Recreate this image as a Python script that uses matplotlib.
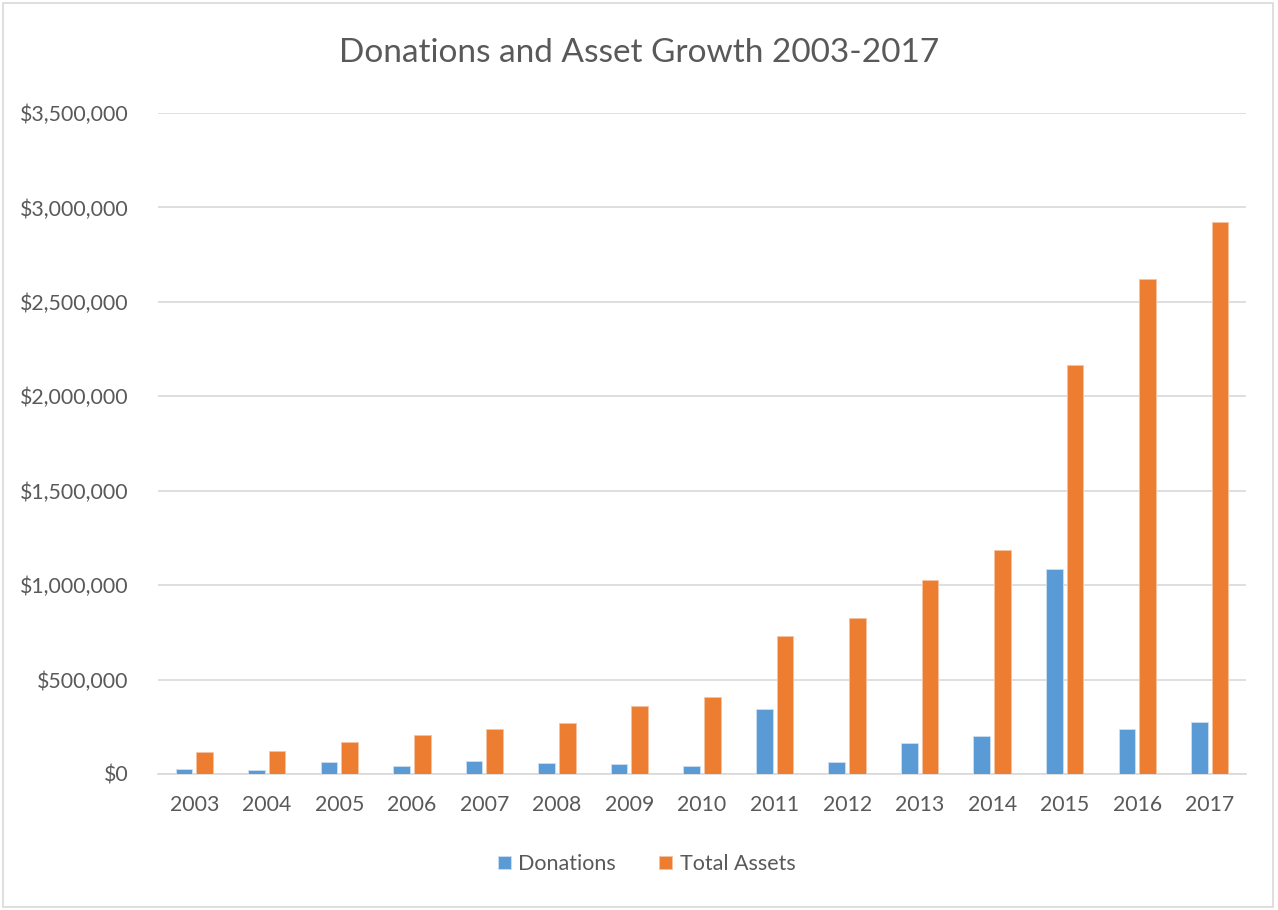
import matplotlib
matplotlib.use("Agg")
import matplotlib.pyplot as plt
import numpy as np
from matplotlib.ticker import FuncFormatter
from matplotlib.patches import Rectangle

years = ["2003", "2004", "2005", "2006", "2007", "2008", "2009", "2010",
         "2011", "2012", "2013", "2014", "2015", "2016", "2017"]
donations = [26000, 21000, 64000, 42000, 71000, 57000, 53000, 42000,
             346000, 65000, 164000, 203000, 1087000, 238000, 276000]
total_assets = [117000, 122000, 170000, 205000, 237000, 269000, 359000, 408000,
                733000, 825000, 1028000, 1188000, 2166000, 2622000, 2921000]
series_names = ["Donations", "Total Assets"]
colors = ["#5B9BD5", "#ED7D31"]

plt.rcParams['font.family'] = ['Lato', 'DejaVu Sans']
text_color = "#595959"

fig = plt.figure(figsize=(12.78, 9.10), dpi=100)
ax = fig.add_axes([158/1278, 1-774/910, (1246-158)/1278, (774-113)/910])

x = np.arange(len(years))
w = 0.23
gap = 0.055
ax.bar(x - (w+gap)/2, donations, width=w, color=colors[0], label=series_names[0],
       edgecolor="#cfe0f1", linewidth=0.6, zorder=3)
ax.bar(x + (w+gap)/2, total_assets, width=w, color=colors[1], label=series_names[1],
       edgecolor="#f6c3a4", linewidth=0.6, zorder=3)

ax.set_xlim(-0.5, len(years) - 0.5)
ax.set_ylim(0, 3500000)
ax.set_yticks(np.arange(0, 3500001, 500000))
ax.yaxis.set_major_formatter(FuncFormatter(lambda v, p: "${:,.0f}".format(v)))
ax.set_xticks(x)
ax.set_xticklabels(years)
ax.grid(axis="y", color="#d9d9d9", linewidth=1.2, zorder=0)
for s in ["top", "right", "left"]:
    ax.spines[s].set_visible(False)
ax.spines["bottom"].set_color("#d9d9d9")
ax.spines["bottom"].set_linewidth(1.2)
ax.tick_params(axis="both", length=0, colors=text_color, labelsize=15.3)
ax.tick_params(axis="y", pad=21.3)
ax.tick_params(axis="x", pad=15)

fig.text(0.5, 1-53/910, "Donations and Asset Growth 2003-2017", ha="center", va="center",
         fontsize=24, color=text_color)

leg = fig.legend(loc="center", bbox_to_anchor=(0.506, 1-864/910), ncol=2, frameon=False,
                 fontsize=15.5, handlelength=0.6, handleheight=0.6, handletextpad=0.35,
                 columnspacing=2.0)
for t in leg.get_texts():
    t.set_color(text_color)

fig.patches.append(Rectangle((3/1278, 3/910), 1270/1278, 904/910, transform=fig.transFigure,
                             fill=False, edgecolor="#d9d9d9", linewidth=1.2))

fig.savefig("out.png", dpi=100, facecolor="white")
